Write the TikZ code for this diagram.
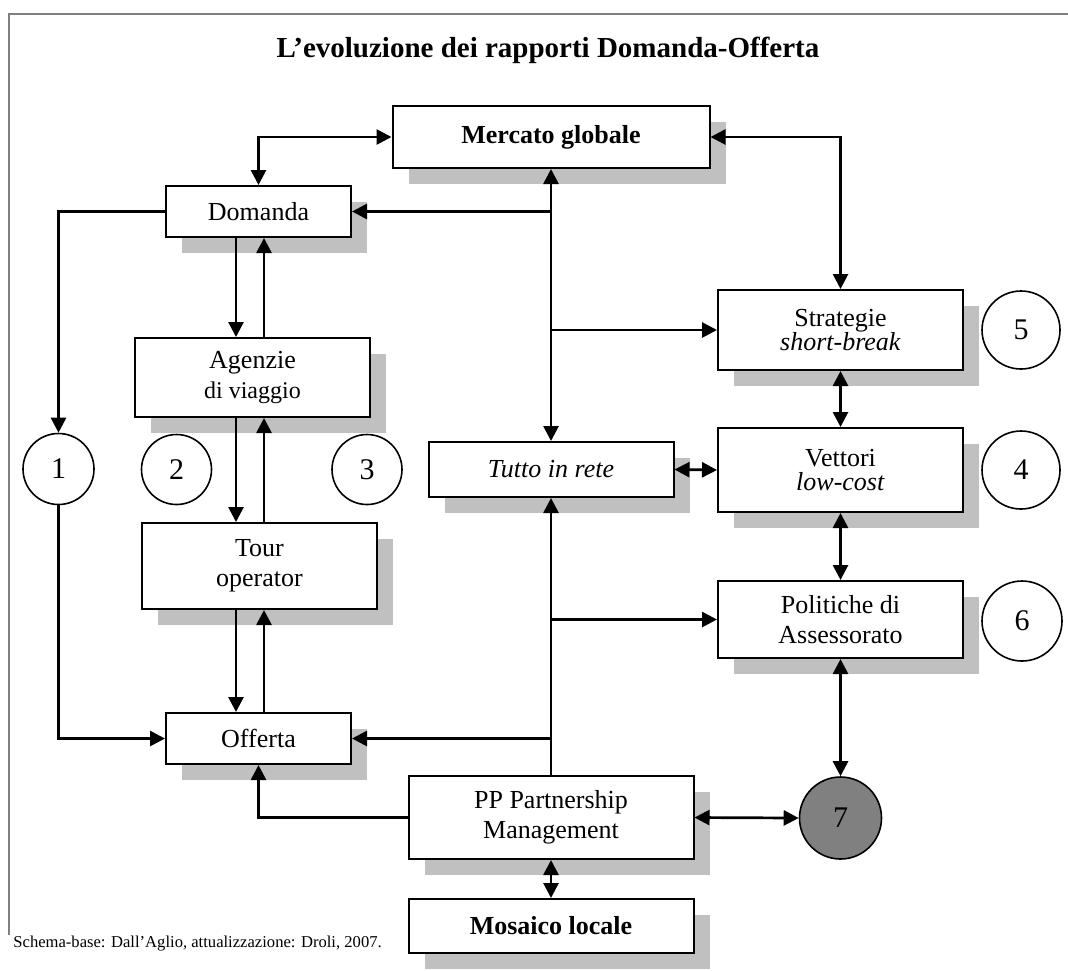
\documentclass[tikz,border=0pt]{standalone}
\usepackage{fontspec}
\setmainfont{Liberation Serif}
\usetikzlibrary{arrows.meta,shadows,positioning}
\definecolor{shadowgray}{HTML}{C0C0C0}
\definecolor{framegray}{HTML}{808080}
\definecolor{sevengray}{HTML}{808080}

\begin{document}
\begin{tikzpicture}[x=0.5pt,y=-0.5pt,
                box/.style={draw, line width=1pt, fill=white, align=center, inner sep=0pt,
                  font=\fontsize{13}{15}\selectfont,
                  drop shadow={shadow xshift=8pt, shadow yshift=-8pt, fill=shadowgray, opacity=1}},
                num/.style={draw, circle, line width=0.8pt, fill=white, inner sep=0pt,
                  font=\fontsize{15}{17}\selectfont},
                link/.style={line width=1.35pt, >={Triangle[length=7.5pt,width=7.5pt]}}
                ]
                \useasboundingbox (0,0) rectangle (1068,970);
                % frame
                \draw[framegray, line width=1pt] (1068,14) -- (9,14) -- (9,935);
                \node[font=\fontsize{14.5}{17}\selectfont\bfseries] (title) at (548,50) {L’evoluzione dei rapporti Domanda-Offerta};
                % boxes
                \node[box, minimum width=158.5pt, minimum height=31pt, font=\fontsize{13}{15}\selectfont\bfseries] (merc) at (551,137) {Mercato globale};
                \node[box, minimum width=92.5pt, minimum height=25.5pt] (dom) at (258.5,211.5) {Domanda};
                \node[box, minimum width=117.5pt, minimum height=39.5pt] (agz) at (252.5,377.5) {Agenzie\\{\fontsize{12}{14}\selectfont di viaggio}};
                \node[box, minimum width=117.5pt, minimum height=43pt] (tour) at (259.5,566) {Tour\\operator};
                \node[box, minimum width=92.5pt, minimum height=25.5pt] (off) at (258.5,738.5) {Offerta};
                \node[box, minimum width=122.5pt, minimum height=27.5pt, font=\fontsize{13}{15}\selectfont\itshape] (rete) at (551,469.5) {Tutto in rete};
                \node[box, minimum width=122.5pt, minimum height=40pt, font=\fontsize{13}{12}\selectfont] (strat) at (840.5,330) {Strategie\\\textit{short-break}};
                \node[box, minimum width=122.5pt, minimum height=42pt, font=\fontsize{13}{12}\selectfont] (vett) at (840.5,470) {Vettori\\\textit{low-cost}};
                \node[box, minimum width=122.5pt, minimum height=38.5pt] (pol) at (840.5,619.5) {Politiche di\\Assessorato};
                \node[box, minimum width=142.5pt, minimum height=41.5pt] (pp) at (551,817.5) {PP Partnership\\Management};
                \node[box, minimum width=142.5pt, minimum height=27pt, font=\fontsize{13}{15}\selectfont\bfseries] (mos) at (551,926) {Mosaico locale};
                % numbered circles
                \node[num, minimum size=35.5pt] (c1) at (58.5,469) {1};
                \node[num, minimum size=35pt] (c2) at (176.5,469.5) {2};
                \node[num, minimum size=35pt] (c3) at (367,469.5) {3};
                \node[num, minimum size=39pt] (c5) at (1021,330) {5};
                \node[num, minimum size=39pt] (c4) at (1021,470) {4};
                \node[num, minimum size=40pt] (c6) at (1022,621) {6};
                \node[num, minimum size=41pt, fill=sevengray] (c7) at (840.5,818) {7};
                \node[anchor=west, inner sep=0pt, font=\fontsize{8.3}{10}\selectfont] (src) at (13,944) {Schema-base: Dall’Aglio, attualizzazione: Droli, 2007.};
                % connectors
                \coordinate (lx) at (236,0);
                \coordinate (rx) at (264,0);
                \begin{scope}[link]
                  \draw[<->] (merc.west) -| (dom.north);
                  \draw[<->] (merc.east) -| (strat.north);
                  \draw[<->] (merc.south) -- (rete.north);
                  \draw[->] (merc.south |- dom.east) -- (dom.east);
                  \draw[->] (rete.north |- strat.west) -- (strat.west);
                  \draw[->] (pp.north) -- (rete.south);
                  \draw[->] (pp.north |- off.east) -- (off.east);
                  \draw[->] (pp.north |- pol.west) -- (pol.west);
                  \foreach \a/\b in {dom/agz,agz/tour,tour/off}{
                    \draw[->] (lx |- \a.south) -- (lx |- \b.north);
                    \draw[->] (rx |- \b.north) -- (rx |- \a.south);
                  }
                  \draw[->] (dom.west) -| (c1.north);
                  \draw[->] (c1.south) |- (off.west);
                  \draw[->] (pp.west) -| (off.south);
                  \draw[<->] (rete.east) -- (vett.west);
                  \draw[<->] (strat.south) -- (vett.north);
                  \draw[<->] (vett.south) -- (pol.north);
                  \draw[<->] (pol.south) -- (c7.north);
                  \draw[<->] (pp.east) -- (c7.west);
                  \draw[<->] (pp.south) -- (mos.north);
                \end{scope}
\end{tikzpicture}
\end{document}
